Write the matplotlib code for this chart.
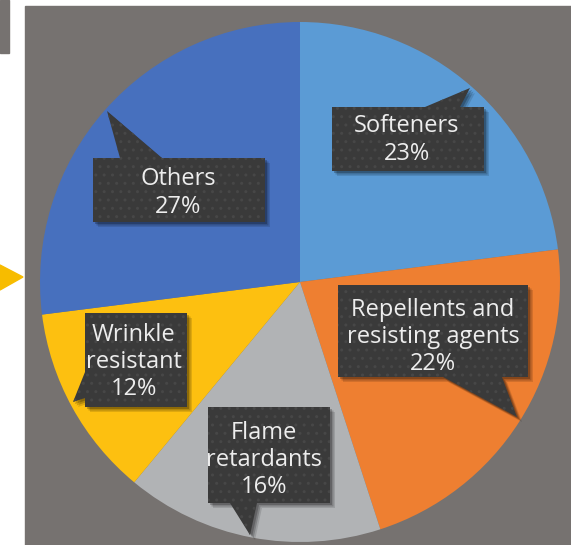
import matplotlib.pyplot as plt
from matplotlib.patches import Polygon, Rectangle

# Share of finishing chemicals by type (%)
labels = ['Softeners', 'Repellents and\nresisting agents', 'Flame\nretardants',
          'Wrinkle\nresistant', 'Others']
values = [23, 22, 16, 12, 27]
colors = ['#5B9BD5', '#EE7F31', '#B1B3B5', '#FDC010', '#4770BE']

# callout shapes (box + pointer) and text anchors, in pixel units
callouts = [
    [(332, 107), (425, 107), (470, 88), (460, 107), (484, 107), (484, 171), (332, 171)],
    [(338, 285), (528, 285), (528, 377), (502, 377), (517, 417), (443, 377), (338, 377)],
    [(208, 407), (330, 407), (330, 503), (257, 503), (250, 535), (230, 503), (208, 503)],
    [(85, 313), (187, 313), (187, 407), (85, 407), (85, 398), (73, 402), (85, 372)],
    [(93, 158), (120, 158), (107, 111), (162, 158), (265, 158), (265, 222), (93, 222)],
]
text_pos = [(407, 140), (433, 337), (264, 460), (134, 362), (178, 193)]

fig = plt.figure(figsize=(5.71, 5.45), dpi=100, facecolor='white')
ax = fig.add_axes([0, 0, 1, 1])

# grey panel, corner tab and arrow marker
ax.add_patch(Rectangle((25, 6), 560, 545, color='#767270', zorder=0))
ax.add_patch(Rectangle((0, 0), 8.5, 53, color='#767270', zorder=0))
ax.add_patch(Polygon([(0, 265), (23, 277), (0, 290)], color='#F7BC00', zorder=0))

# y axis points down, so counterclock in data runs clockwise on screen
ax.pie(values, colors=colors, startangle=270, counterclock=True,
       center=(300, 282), radius=260, frame=True,
       wedgeprops=dict(linewidth=0))
ax.set_xlim(0, 571)
ax.set_ylim(545, 0)
ax.set_aspect('equal')
ax.axis('off')

for verts, (tx, ty), lab, val in zip(callouts, text_pos, labels, values):
    for k, a in [(5, 0.12), (3.5, 0.18), (2, 0.22)]:
        ax.add_patch(Polygon([(x + k, y + k) for x, y in verts],
                             closed=True, color='black', alpha=a, lw=0, zorder=3))
    ax.add_patch(Polygon(verts, closed=True, facecolor='#3A3A3A',
                         edgecolor='#474747', lw=0, hatch='..', zorder=4))
    ax.text(tx, ty, f'{lab}\n{val}%', ha='center', va='center', color='#EDEDED',
            fontsize=17, family='Open Sans', linespacing=1.17, zorder=5)

fig.savefig('out.png', dpi=100, facecolor='white')
